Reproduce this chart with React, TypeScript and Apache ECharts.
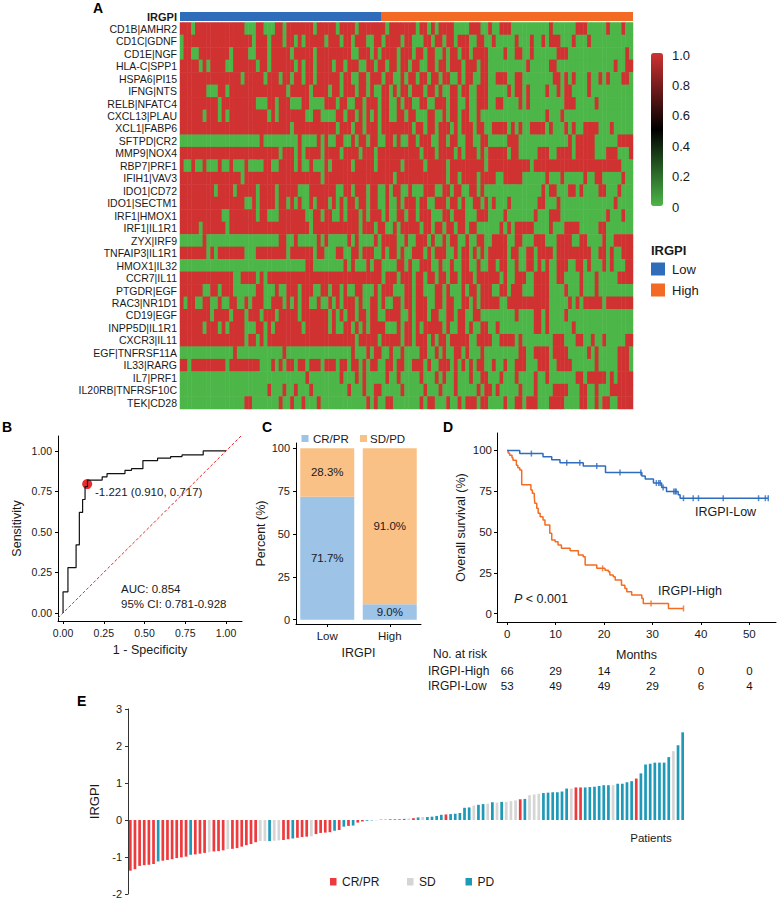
import React, { useEffect, useRef } from 'react';
import * as echarts from 'echarts';

const FONT = '"Liberation Sans", Arial, Helvetica, sans-serif';
const INK = '#1a1a1a';

// ---------- Panel A: heatmap ----------
const geneLabels = [
  'CD1B|AMHR2', 'CD1C|GDNF', 'CD1E|NGF', 'HLA-C|SPP1', 'HSPA6|PI15', 'IFNG|NTS', 'RELB|NFATC4',
  'CXCL13|PLAU', 'XCL1|FABP6', 'SFTPD|CR2', 'MMP9|NOX4', 'RBP7|PRF1', 'IFIH1|VAV3', 'IDO1|CD72',
  'IDO1|SECTM1', 'IRF1|HMOX1', 'IRF1|IL1R1', 'ZYX|IRF9', 'TNFAIP3|IL1R1', 'HMOX1|IL32', 'CCR7|IL11',
  'PTGDR|EGF', 'RAC3|NR1D1', 'CD19|EGF', 'INPP5D|IL1R1', 'CXCR3|IL11', 'EGF|TNFRSF11A', 'IL33|RARG',
  'IL7|PRF1', 'IL20RB|TNFRSF10C', 'TEK|CD28',
];
// 1 = pair value 1 (red), 0 = pair value 0 (green); 119 patients per row
const heatRows = [
  '11101 11111 11111 11000 11000 11011 11111 01111 10111 10111 11110 11111 11011 01011 11000 01110 01001 11000 00000 00100 00001 11000 00100 0100',
  '01111 11111 11111 11110 11101 11011 01011 11101 11011 01110 01101 11101 10001 10110 11011 10011 00100 00010 00100 10111 00010 00100 00000 0000',
  '01100 11111 11101 11100 11101 11110 11111 01111 11111 00111 01011 11011 10110 11001 01101 10111 10000 10011 00100 00001 11000 00000 00000 0010',
  '11111 01011 11001 11111 01101 11111 01011 01111 01101 11001 10110 11011 01100 11011 01110 11101 10000 00000 01000 00110 00000 00000 00001 0011',
  '11111 11111 11111 10111 11011 10110 11011 01111 11011 00110 11101 10010 11011 01101 10010 11001 10011 10011 00000 00011 01010 00100 10100 0110',
  '11111 11000 11011 11111 11111 11101 11110 11110 11011 10110 10011 01011 01110 11010 01101 10011 10000 01011 01000 01001 01100 00100 00000 0000',
  '11111 11111 01111 11111 00011 01110 00110 00011 10110 01101 11011 00101 10011 00111 01100 10011 10011 00001 01000 00000 01110 00001 00000 0000',
  '11111 10111 01011 11111 11101 01111 11100 11000 01101 10101 01011 00110 11000 11001 01101 10010 00000 00000 00000 01000 10000 00000 00000 0000',
  '11111 11111 11111 11111 11111 11110 11111 11111 10111 01101 11011 11111 10110 11011 10101 11011 00111 10101 00111 10100 01010 01111 00010 0000',
  '00000 00000 00000 00000 01000 00000 01000 01010 01100 10110 11001 10100 11011 10011 01100 11001 10000 01110 00000 00000 00101 11110 00000 1111',
  '11111 11111 11111 11111 11111 10111 01011 11011 11011 11011 10111 11111 11101 11011 11010 11101 01111 10110 00001 11001 11101 11110 00111 0001',
  '10010 01000 10010 00100 00110 01111 01001 00010 11111 01111 10111 11101 11110 11111 01111 11111 01111 11111 11011 11111 11111 11111 11111 1000',
  '11111 11111 11111 10111 11111 11111 11111 11011 11111 11111 11111 10111 11111 11111 01101 11101 11100 11111 00000 01000 10000 01001 10000 0100',
  '11111 11110 11110 11111 01111 01111 10001 11111 10011 01110 11001 01100 10001 11001 10110 01101 00000 00000 00000 10110 00110 10000 11000 1000',
  '11111 11111 11111 11001 01111 01101 01001 01110 10101 10110 11001 00101 11011 00111 01101 00110 10100 01000 00001 10001 00000 00000 00001 0000',
  '11111 11111 10011 11111 01100 01111 11100 11011 00101 11010 11101 00110 11011 10001 10111 00011 10000 10000 00010 00111 00000 00000 00100 0100',
  '11111 01111 11011 11111 11111 11111 11110 11111 11111 11011 10110 01011 11101 10110 11011 01100 00001 01011 11100 00100 01111 00000 11000 0000',
  '00000 01000 00000 00000 00000 01100 10000 01010 00001 01000 01011 11001 00111 01001 01100 10011 00111 10011 00011 10001 11100 11000 01001 1111',
  '11111 11010 11111 11000 11111 11101 11111 01100 01100 11011 10010 11010 01110 10111 00101 10101 01111 10110 01101 11101 11111 11100 11010 0111',
  '00000 00000 00000 00000 00000 00000 00011 00000 00010 10001 01100 00110 10011 10010 01001 10010 01101 10010 01101 01001 11001 10100 01010 0011',
  '11111 11111 11110 01111 01011 11111 11111 11111 11111 11111 11101 11011 10110 11011 01101 11011 11110 10011 10011 11001 10000 10001 00000 1111',
  '11111 10011 01110 00000 11000 10011 10111 00110 11010 01100 01011 10001 10110 00110 10001 01101 11001 10111 00011 11000 01000 10001 00000 0000',
  '10110 01100 10011 00101 11001 11010 10110 01001 01011 10100 11010 01101 10111 00110 11001 10101 11110 01111 11111 11000 00101 01111 10111 1111',
  '11111 11101 11101 11011 10111 01111 10111 11110 10101 10110 11001 11100 10111 01100 11011 00110 00000 00010 00011 01000 01000 00000 00000 0000',
  '11111 10111 01011 11000 11010 11111 11011 11110 10011 01010 11110 00101 10101 11110 10011 01001 10010 00000 00011 01000 00010 00000 00000 0000',
  '11111 11111 11111 11011 01011 11111 11111 11111 11111 10111 11011 11101 10111 01011 01111 10011 11001 11101 00000 00011 10001 10010 01000 0011',
  '00000 00000 00001 00000 00000 00100 00000 00000 00000 10001 01100 10010 00011 00101 00110 10001 00000 00001 10011 11011 11000 00101 00000 1110',
  '11011 11111 11011 11111 10001 01011 01101 11011 10110 11010 11001 10110 01110 10011 10101 01011 00100 10011 10001 11001 11100 00001 00000 1110',
  '00000 00000 00000 00000 00000 00000 00010 00000 00100 01010 00001 00100 00010 00101 00100 01001 10001 00010 00010 01000 00001 10111 11010 1111',
  '00000 00000 00000 00000 00010 00100 10001 00000 00001 00010 01100 00010 00001 00010 00100 00010 11010 00001 00010 00011 11000 11001 00011 1111',
  '00000 00000 00000 00110 00000 01001 00100 01000 00000 00001 01001 10000 00010 11000 10010 11101 10000 10011 01110 00111 10000 11001 01100 1111',
];
const groupNames = ['Low', 'High'];
const groupCounts = [53, 66];
const groupColors = ['#2F6CB9', '#F26A23'];
const colorbarTicks = [1.0, 0.8, 0.6, 0.4, 0.2, 0];
const colorbarLabels = ['1.0', '0.8', '0.6', '0.4', '0.2', '0'];

// ---------- Panel B: ROC ----------
const rocFpr = [0, 0, 0.03, 0.03, 0.08, 0.08, 0.1, 0.1, 0.12, 0.12, 0.135, 0.135, 0.15, 0.15, 0.24, 0.24, 0.27, 0.27, 0.38, 0.38, 0.42, 0.42, 0.49, 0.49, 0.58, 0.58, 0.66, 0.66, 0.73, 0.73, 0.86, 0.86, 1.0];
const rocTpr = [0, 0.13, 0.13, 0.28, 0.28, 0.42, 0.42, 0.62, 0.62, 0.7, 0.7, 0.78, 0.78, 0.82, 0.82, 0.84, 0.84, 0.86, 0.86, 0.88, 0.88, 0.89, 0.89, 0.94, 0.94, 0.955, 0.955, 0.965, 0.965, 0.975, 0.975, 1.0, 1.0];
const rocCut = [0.148, 0.795];
const rocTicks = [0, 0.25, 0.5, 0.75, 1];

// ---------- Panel C: response proportions ----------
const responseGroups = ['Low', 'High'];
const crprPct = [71.7, 9.0];
const sdpdPct = [28.3, 91.0];
const pctTicks = [0, 25, 50, 75, 100];

// ---------- Panel D: Kaplan-Meier ----------
const kmLowTime = [0, 2.6, 7.4, 9.2, 10.9, 15.7, 20.3, 27.8, 28.5, 30.2, 31.9, 32.9, 35.3, 35.7, 53.9];
const kmLowSurv = [100, 98.1, 96.2, 94.3, 92.4, 90.5, 86.5, 84.4, 82.5, 80.0, 77.3, 74.8, 72.8, 70.7, 70.7];
const kmHighTime = [0, 0.2, 0.5, 1.0, 1.2, 1.9, 2.2, 2.6, 3.0, 4.9, 5.2, 5.6, 5.7, 6.1, 6.4, 6.8, 7.4, 7.8, 8.8, 9.2, 9.9, 10.5, 11.2, 13.0, 14.7, 15.7, 16.1, 18.5, 20.2, 20.9, 21.2, 21.9, 22.3, 23.6, 24.3, 24.7, 25.7, 27.8, 28.1, 33.3, 36.4];
const kmHighSurv = [100, 98.5, 97, 95.5, 94, 91, 89.4, 88, 79, 75.8, 73.8, 71.7, 67.6, 64.6, 61.5, 59.4, 57.4, 54.3, 49.2, 45.1, 44.0, 42.0, 40.0, 38.5, 35.9, 34.8, 29.7, 27.7, 26.6, 25.6, 23.6, 22.5, 20.5, 17.4, 15.4, 13.3, 11.3, 9.2, 6.2, 3.1, 3.1];
const censorLowTime = [5.0, 12.3, 15.0, 18.5, 23.3, 27.6, 30.8, 31.3, 31.6, 32.2, 34.4, 34.7, 34.9, 36.4, 38.4, 39.5, 44.6, 51.9, 53.3, 53.9];
const censorHighTime = [19.7, 29.7, 36.4];
const kmTicksX = [0, 10, 20, 30, 40, 50];
const kmTicksY = [0, 25, 50, 75, 100];
const riskGroups = ['IRGPI-Low', 'IRGPI-High'];
const riskTimes = [0, 10, 20, 30, 40, 50];
const riskHigh = [66, 29, 14, 2, 0, 0];
const riskLow = [53, 49, 49, 29, 6, 4];

// ---------- Panel E: waterfall ----------
const irgpiScores = [
  -1.37, -1.33, -1.24, -1.22, -1.21, -1.19, -1.12, -1.10, -1.08, -1.06,
  -1.03, -1.01, -0.99, -0.94, -0.93, -0.91, -0.89, -0.87, -0.85, -0.84,
  -0.82, -0.79, -0.78, -0.76, -0.72, -0.68, -0.65, -0.60, -0.57, -0.57,
  -0.57, -0.56, -0.55, -0.54, -0.52, -0.50, -0.48, -0.46, -0.45, -0.44,
  -0.38, -0.35, -0.34, -0.33, -0.29, -0.27, -0.18, -0.16, -0.15, -0.07,
  -0.04, -0.02, -0.01, -0.01, 0.01, 0.01,
  0.02, 0.02, 0.02, 0.03, 0.04, 0.05, 0.07, 0.08, 0.08, 0.09,
  0.11, 0.14, 0.15, 0.16, 0.17, 0.19, 0.33, 0.34, 0.39, 0.41,
  0.43, 0.44, 0.48, 0.47, 0.49, 0.49, 0.51, 0.53, 0.56, 0.57,
  0.67, 0.69, 0.71, 0.73, 0.74, 0.75, 0.75, 0.77, 0.85, 0.85,
  0.88, 0.88, 0.88, 0.89, 0.90, 0.92, 0.94, 0.94, 0.94, 0.98,
  0.98, 1.02, 1.05, 1.12, 1.26, 1.50, 1.52, 1.55, 1.55, 1.55,
  1.70, 1.86, 2.02, 2.37,
];
// R = CR/PR, S = SD, P = PD
const irgpiResponse = (
  'RRRRRRPRRRRRRPRRRSRRRSRRRRRRSSPSSRRPRRRSRRRRPRPRPRR' +
  'PPSPP' +
  'PPPPSRPSPPPPRPPPPPSPPSPSPSSSRPSSSPPPPPPSRRPPPPPPSPPPPRPPPPPPPSPP'
).split('');
const responseNames = ['CR/PR', 'SD', 'PD'];
const responseCodes = ['R', 'S', 'P'];
const responseColors = ['#EE3A3D', '#D5D5D5', '#1E99B8'];

function stepValue(times: number[], surv: number[], t: number) {
  let v = surv[0];
  for (let i = 0; i < times.length; i++) if (times[i] <= t) v = surv[i];
  return v;
}

const txt = (text: string, x: number, y: number, extra: any = {}) => ({
  type: 'text',
  x,
  y,
  silent: true,
  style: {
    text,
    fill: INK,
    fontSize: 12,
    fontFamily: FONT,
    align: 'left',
    verticalAlign: 'middle',
    textAlign: 'left',
    textVerticalAlign: 'middle',
    ...extra,
  },
});
const box = (x: number, y: number, w: number, h: number, fill: string) => ({
  type: 'rect',
  silent: true,
  shape: { x, y, width: w, height: h },
  style: { fill },
});

function valueAxis(gridIndex: number, min: number, max: number, ticks: number[], opts: any = {}) {
  const { fontSize = 11, margin = 5, fmt, name, nameGap = 20 } = opts;
  return {
    type: 'value',
    gridIndex,
    min,
    max,
    axisLine: { show: true, onZero: false, lineStyle: { color: '#000', width: 1 } },
    axisTick: { show: true, length: 3, customValues: ticks, lineStyle: { color: '#000' } },
    axisLabel: {
      color: INK,
      fontSize,
      fontFamily: FONT,
      margin,
      customValues: ticks,
      formatter: fmt || ((v: number) => String(v)),
    },
    splitLine: { show: false },
    name,
    nameLocation: 'middle',
    nameGap,
    nameTextStyle: { color: INK, fontSize: 12.5, fontFamily: FONT },
  };
}

export default function App() {
  const ref = useRef<HTMLDivElement>(null);

  useEffect(() => {
    document.body.style.margin = '0';
    if (!ref.current) return;
    const chart = echarts.init(ref.current, undefined, { renderer: 'svg' });

    const nCols = groupCounts.reduce((a, b) => a + b, 0);
    const colIdx = Array.from({ length: nCols }, (_, i) => String(i));
    const heatData: number[][] = [];
    heatRows.forEach((row, r) => {
      let s = row.replace(/\s/g, '');
      if (s.length < nCols) s = s + s.slice(-1).repeat(nCols - s.length);
      for (let c = 0; c < nCols; c++) heatData.push([c, r, s[c] === '1' ? 1 : 0]);
    });

    const wfIdx = irgpiScores.map((_, i) => String(i));
    const wfData = irgpiScores.map((v, i) => ({
      value: v,
      itemStyle: { color: responseColors[responseCodes.indexOf(irgpiResponse[i])] },
    }));

    const cbTop = 53;
    const cbH = 153;

    const graphics: any[] = [
      txt('A', 93, 8, { fontSize: 14, fontWeight: 'bold', fill: '#000' }),
      txt('IRGPI', 177, 16.5, { fontSize: 11, fontWeight: 'bold', align: 'right', textAlign: 'right' }),
      ...colorbarTicks.map((v, i) => txt(colorbarLabels[i], 672, cbTop + 2 + (cbH - 1) * (1 - v), { fontSize: 13 })),
      txt('IRGPI', 651, 250, { fontSize: 13, fontWeight: 'bold' }),
      ...groupNames.flatMap((g, i) => [
        box(651, 262.5 + i * 21, 14, 13, groupColors[i]),
        txt(g, 672, 269.5 + i * 21, { fontSize: 13 }),
      ]),
      txt('B', 2, 427, { fontSize: 14, fontWeight: 'bold', fill: '#000' }),
      txt('C', 262, 427, { fontSize: 14, fontWeight: 'bold', fill: '#000' }),
      txt('D', 443, 427, { fontSize: 14, fontWeight: 'bold', fill: '#000' }),
      txt('E', 77, 701, { fontSize: 14, fontWeight: 'bold', fill: '#000' }),
      txt('-1.221 (0.910, 0.717)', 95, 491.5, { fontSize: 11.5 }),
      txt('AUC: 0.854', 121, 589, { fontSize: 11.5 }),
      txt('95% CI: 0.781-0.928', 121, 603.5, { fontSize: 11.5 }),
      box(301.5, 435, 7, 7, '#9DC3E6'),
      txt('CR/PR', 313, 438.5, { fontSize: 11.5 }),
      box(360, 435, 7, 7, '#FAC187'),
      txt('SD/PD', 370, 438.5, { fontSize: 11.5 }),
      txt('IRGPI-Low', 695, 511.5, { fontSize: 12.5 }),
      txt('IRGPI-High', 658, 591, { fontSize: 12.5 }),
      {
        type: 'text',
        x: 514,
        y: 599,
        silent: true,
        style: {
          text: '{i|P} < 0.001',
          fill: INK,
          fontSize: 12.5,
          fontFamily: FONT,
          verticalAlign: 'middle',
          textVerticalAlign: 'middle',
          rich: { i: { fontStyle: 'italic', fontSize: 12.5, fontFamily: FONT, fill: INK, color: INK } },
        },
      },
      txt('No. at risk', 433, 654, { fontSize: 12 }),
      txt('Patients', 651, 838, { fontSize: 11.5, align: 'center', textAlign: 'center' }),
      ...responseNames.flatMap((n, i) => {
        const xs = [330, 407, 465.5];
        return [box(xs[i], 878, 6.5, 7.5, responseColors[i]), txt(n, xs[i] + 12, 882, { fontSize: 12 })];
      }),
    ];

    const riskLabel = {
      show: true,
      position: 'inside',
      color: '#111111',
      textBorderWidth: 0,
      textBorderColor: 'transparent',
      opacity: 1,
      fontSize: 11.5,
      fontFamily: FONT,
      formatter: (p: any) => String(p.value[2]),
    };

    const option: any = {
      animation: false,
      textStyle: { fontFamily: FONT },
      grid: [
        { left: 180, top: 22.5, width: 453, height: 386.5, outerBoundsMode: 'none' },
        { left: 180, top: 12, width: 453, height: 9, outerBoundsMode: 'none' },
        { left: 58, top: 436, width: 184, height: 185, outerBoundsMode: 'none' },
        { left: 296, top: 443, width: 125, height: 181, outerBoundsMode: 'none' },
        { left: 497, top: 433, width: 279, height: 189, outerBoundsMode: 'none' },
        { left: 497, top: 663, width: 279, height: 30, outerBoundsMode: 'none' },
        { left: 128, top: 709, width: 557, height: 185, outerBoundsMode: 'none' },
      ],
      xAxis: [
        { type: 'category', gridIndex: 0, data: colIdx, show: false },
        { type: 'value', gridIndex: 1, min: 0, max: nCols, show: false },
        valueAxis(2, -0.031, 1.098, rocTicks, { fontSize: 10.5, margin: 6, fmt: (v: number) => v.toFixed(2), name: '1 - Specificity', nameGap: 22 }),
        {
          type: 'category',
          gridIndex: 3,
          data: responseGroups,
          axisLine: { show: true, onZero: false, lineStyle: { color: '#000' } },
          axisTick: { show: true, alignWithLabel: true, length: 3, lineStyle: { color: '#000' } },
          axisLabel: { color: INK, fontSize: 11.5, fontFamily: FONT, margin: 6 },
          name: 'IRGPI',
          nameLocation: 'middle',
          nameGap: 22,
          nameTextStyle: { color: INK, fontSize: 12.5, fontFamily: FONT },
        },
        valueAxis(4, -2.1, 55.5, kmTicksX, { fontSize: 11.5, margin: 6, name: 'Months', nameGap: 26 }),
        { type: 'value', gridIndex: 5, min: -2.1, max: 55.5, show: false },
        { type: 'category', gridIndex: 6, data: wfIdx, show: false },
      ],
      yAxis: [
        {
          type: 'category',
          gridIndex: 0,
          data: geneLabels,
          inverse: true,
          axisLine: { show: false },
          axisTick: { show: false },
          axisLabel: { interval: 0, color: INK, fontSize: 10.5, fontFamily: FONT, margin: 3 },
        },
        { type: 'category', gridIndex: 1, data: ['IRGPI'], show: false },
        valueAxis(2, -0.05, 1.092, rocTicks, { fontSize: 10.5, margin: 6, fmt: (v: number) => v.toFixed(2), name: 'Sensitivity', nameGap: 35 }),
        valueAxis(3, -2.5, 103, pctTicks, { fontSize: 11, margin: 6, name: 'Percent (%)', nameGap: 24 }),
        valueAxis(4, -5.2, 110.7, kmTicksY, { fontSize: 11.5, margin: 5, name: 'Overall survival (%)', nameGap: 30 }),
        {
          type: 'category',
          gridIndex: 5,
          data: riskGroups,
          axisLine: { show: false },
          axisTick: { show: false },
          axisLabel: { interval: 0, hideOverlap: false, color: INK, fontSize: 12, fontFamily: FONT, align: 'left', margin: 69 },
        },
        {
          type: 'value',
          gridIndex: 6,
          min: -2,
          max: 3,
          interval: 1,
          axisLine: { show: true, onZero: false, lineStyle: { color: '#333' } },
          axisTick: { show: true, length: 3, lineStyle: { color: '#333' } },
          axisLabel: { color: INK, fontSize: 11, fontFamily: FONT, margin: 6 },
          splitLine: { show: false },
          name: 'IRGPI',
          nameLocation: 'middle',
          nameGap: 24,
          nameTextStyle: { color: INK, fontSize: 13, fontFamily: FONT },
        },
      ],
      visualMap: [
        {
          type: 'continuous',
          seriesIndex: 0,
          min: 0,
          max: 1,
          calculable: false,
          hoverLink: false,
          orient: 'vertical',
          left: 651,
          top: cbTop,
          padding: 0,
          itemWidth: 12,
          itemHeight: cbH,
          inRange: { color: ['#4CB648', '#000000', '#D03232'] },
        },
      ],
      series: [
        {
          type: 'heatmap',
          xAxisIndex: 0,
          yAxisIndex: 0,
          data: heatData,
          progressive: 0,
          emphasis: { disabled: true },
          itemStyle: { borderWidth: 0 },
        },
        ...groupNames.map((g, i) => ({
          type: 'bar',
          name: g,
          xAxisIndex: 1,
          yAxisIndex: 1,
          stack: 'annot',
          data: [groupCounts[i]],
          barWidth: '100%',
          itemStyle: { color: groupColors[i] },
          silent: true,
        })),
        {
          type: 'line',
          xAxisIndex: 2,
          yAxisIndex: 2,
          data: [[-0.031, -0.031], [1.092, 1.092]],
          showSymbol: false,
          lineStyle: { color: '#E8262A', width: 1, type: [3, 2] },
          silent: true,
        },
        {
          type: 'line',
          xAxisIndex: 2,
          yAxisIndex: 2,
          data: rocFpr.map((f, i) => [f, rocTpr[i]]),
          showSymbol: false,
          lineStyle: { color: '#111', width: 1.2 },
          silent: true,
        },
        {
          type: 'scatter',
          xAxisIndex: 2,
          yAxisIndex: 2,
          data: [rocCut],
          symbolSize: 10,
          itemStyle: { color: '#EC2A2D', opacity: 1 },
          silent: true,
        },
        {
          type: 'bar',
          name: 'CR/PR',
          xAxisIndex: 3,
          yAxisIndex: 3,
          stack: 'pct',
          data: crprPct,
          barWidth: 54,
          itemStyle: { color: '#9DC3E6' },
          label: { show: true, position: 'inside', color: INK, fontSize: 11.5, fontFamily: FONT, formatter: (p: any) => p.value.toFixed(1) + '%' },
          silent: true,
        },
        {
          type: 'bar',
          name: 'SD/PD',
          xAxisIndex: 3,
          yAxisIndex: 3,
          stack: 'pct',
          data: sdpdPct,
          barWidth: 54,
          itemStyle: { color: '#FAC187' },
          label: { show: true, position: 'inside', color: INK, fontSize: 11.5, fontFamily: FONT, formatter: (p: any) => p.value.toFixed(1) + '%' },
          silent: true,
        },
        {
          type: 'line',
          xAxisIndex: 4,
          yAxisIndex: 4,
          step: 'end',
          data: kmHighTime.map((t, i) => [t, kmHighSurv[i]]),
          showSymbol: false,
          lineStyle: { color: '#F36C21', width: 1.5 },
          silent: true,
        },
        {
          type: 'line',
          xAxisIndex: 4,
          yAxisIndex: 4,
          step: 'end',
          data: kmLowTime.map((t, i) => [t, kmLowSurv[i]]),
          showSymbol: false,
          lineStyle: { color: '#2E6DBE', width: 1.5 },
          silent: true,
        },
        {
          type: 'scatter',
          xAxisIndex: 4,
          yAxisIndex: 4,
          data: censorHighTime.map((t) => [t, stepValue(kmHighTime, kmHighSurv, t)]),
          symbol: 'rect',
          symbolSize: [1.5, 6],
          itemStyle: { color: '#F36C21' },
          silent: true,
        },
        {
          type: 'scatter',
          xAxisIndex: 4,
          yAxisIndex: 4,
          data: censorLowTime.map((t) => [t, stepValue(kmLowTime, kmLowSurv, t)]),
          symbol: 'rect',
          symbolSize: [1.5, 6],
          itemStyle: { color: '#2E6DBE' },
          silent: true,
        },
        {
          type: 'scatter',
          xAxisIndex: 5,
          yAxisIndex: 5,
          data: riskTimes.map((t, i) => [t, 1, riskHigh[i]]),
          symbolSize: 1,
          itemStyle: { color: 'rgba(255,255,255,0)' },
          label: riskLabel,
          silent: true,
        },
        {
          type: 'scatter',
          xAxisIndex: 5,
          yAxisIndex: 5,
          data: riskTimes.map((t, i) => [t, 0, riskLow[i]]),
          symbolSize: 1,
          itemStyle: { color: 'rgba(255,255,255,0)' },
          label: riskLabel,
          silent: true,
        },
        {
          type: 'bar',
          xAxisIndex: 6,
          yAxisIndex: 6,
          data: wfData,
          barWidth: 2.7,
          silent: true,
        },
      ],
      graphic: graphics,
    };

    chart.setOption(option);
    return () => chart.dispose();
  }, []);

  return <div ref={ref} style={{ width: 780, height: 900 }} />;
}
